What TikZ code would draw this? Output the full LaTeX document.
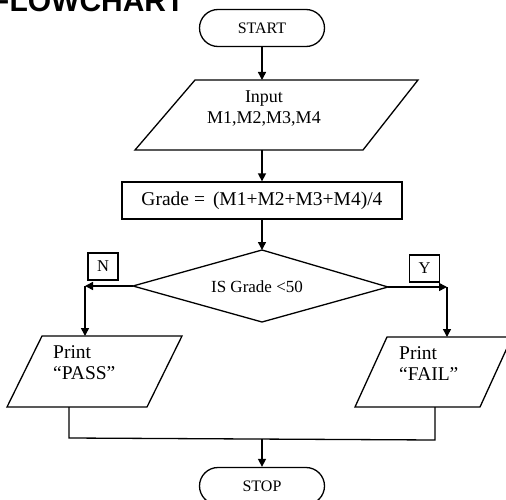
\documentclass[tikz,border=0pt]{standalone}
\usepackage{fontspec}
\setmainfont{Liberation Serif}
\newfontfamily\titlefont{Liberation Sans}
\usetikzlibrary{arrows.meta}
\begin{document}
\begin{tikzpicture}[x=1pt,y=-1pt,
  outline/.style={draw=black, line width=1.3pt},
  link/.style={draw=black, line width=1.3pt},
  flow/.style={draw=black, line width=1.5pt, -{Triangle[length=8pt,width=8pt]}},
  terminal/.style={outline, rounded corners=18.5pt, minimum width=125pt,
    minimum height=37pt, inner sep=0pt, font=\fontsize{16}{16}\selectfont},
  process/.style={outline, minimum width=280pt, minimum height=37pt,
    inner sep=0pt, font=\fontsize{19.5}{20}\selectfont},
  tag/.style={outline, minimum width=30pt, minimum height=27pt,
    inner sep=0pt, font=\fontsize{16.5}{16.5}\selectfont},
  label/.style={inner sep=0pt},
]
\useasboundingbox (0,0) rectangle (506,500);

% heading
\node[anchor=base west, inner sep=0pt,
      font=\titlefont\bfseries\fontsize{30}{30}\selectfont] (title) at (-9,12) {FLOWCHART};

% start
\node[terminal] (start) at (262,28) {START};

% input
\coordinate (in1) at (195,80);
\coordinate (in2) at (418,80);
\coordinate (in3) at (363,150);
\coordinate (in4) at (135,150);
\coordinate (inTop) at (262,80);
\coordinate (inBot) at (262,150);
\draw[outline] (in1) -- (in2) -- (in3) -- (in4) -- cycle;
\node[label, align=center, font=\fontsize{18}{21}\selectfont] (inText) at (264,108)
  {Input\\M1,M2,M3,M4};

% average
\node[process] (grade) at (262,200.5) {Grade =\hspace{8pt}(M1+M2+M3+M4)/4};

% decision
\coordinate (dT) at (262,250);
\coordinate (dR) at (388,287);
\coordinate (dB) at (262,322);
\coordinate (dL) at (133,286);
\draw[outline] (dT) -- (dR) -- (dB) -- (dL) -- cycle;
\node[label, font=\fontsize{17}{17}\selectfont] (dText) at (257,287) {IS Grade <50};

% branch tags
\node[tag] (no) at (103,266.5) {N};
\node[tag] (yes) at (424.5,268.5) {Y};

% pass output
\coordinate (p1) at (42,336);
\coordinate (p2) at (182,336);
\coordinate (p3) at (147,407);
\coordinate (p4) at (7,407);
\draw[outline] (p1) -- (p2) -- (p3) -- (p4) -- cycle;
\node[label, anchor=west, align=left, font=\fontsize{19.5}{21}\selectfont] (passText)
  at (53,363) {Print\\“PASS”};

% fail output
\coordinate (f1) at (387,337);
\coordinate (f2) at (512,337);
\coordinate (f3) at (480,407);
\coordinate (f4) at (355,407);
\draw[outline] (f1) -- (f2) -- (f3) -- (f4) -- cycle;
\node[label, anchor=west, align=left, font=\fontsize{19.5}{21}\selectfont] (failText)
  at (399,364) {Print\\“FAIL”};

% stop
\node[terminal] (stop) at (262,486) {STOP};

% connector points
\coordinate (cornerL) at (85,286);
\coordinate (passTop) at (85,336);
\coordinate (cornerR) at (447,287);
\coordinate (failTop) at (447,337);
\coordinate (passBot) at (69,407);
\coordinate (failBot) at (435,407);
\coordinate (joinL) at (69,438);
\coordinate (joinR) at (435,440);
\coordinate (joinM) at (262,439);

% connectors
\draw[flow] (start) -- (inTop);
\draw[flow] (inBot) -- (grade.north);
\draw[flow] (grade.south) -- (dT);
\draw[flow] (dL) -- (cornerL);
\draw[flow] (cornerL) -- (passTop);
\draw[flow] (dR) -- (cornerR);
\draw[flow] (cornerR) -- (failTop);
\draw[link] (passBot) -- (joinL) -- (joinR) -- (failBot);
\draw[flow] (joinM) -- (stop.north);
\end{tikzpicture}
\end{document}
